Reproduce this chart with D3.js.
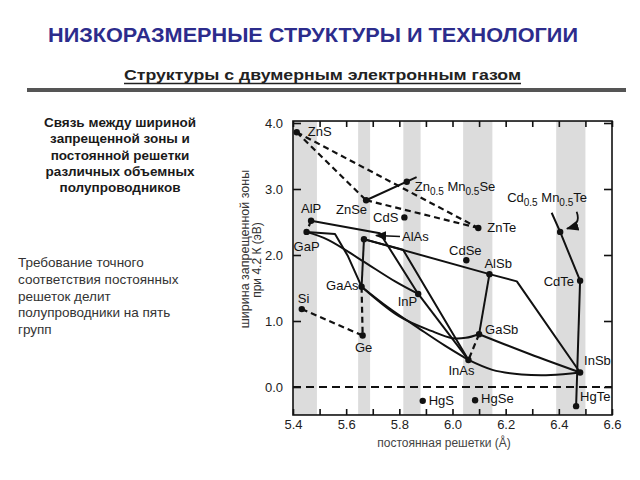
<!DOCTYPE html>
<html><head><meta charset="utf-8">
<script src="https://cdn.jsdelivr.net/npm/d3@7"></script>
<style>body{margin:0;background:#fff}svg{display:block;font-family:"Liberation Sans",Arial,Helvetica,sans-serif}</style>
</head><body><svg id="c" width="640" height="480"></svg>
<script>
// ---------- data ----------
const titleText = "НИЗКОРАЗМЕРНЫЕ СТРУКТУРЫ И ТЕХНОЛОГИИ";
const subtitleText = "Структуры с двумерным электронным газом";
const captionLines = ["Связь между шириной","запрещенной зоны и","постоянной решетки","различных объемных","полупроводников"];
const noteLines = ["Требование точного","соответствия постоянных","решеток делит","полупроводники на пять","групп"];
const yTitleLines = ["ширина запрещенной зоны","при 4.2 К (эВ)"];
const xTitle = "постоянная решетки (Å)";

const compounds   = ["ZnS","ZnSe","ZnTe","CdS","CdSe","CdTe","AlP","GaP","AlAs","GaAs","Ge","Si","InP","AlSb","GaSb","InAs","InSb","HgS","HgSe","HgTe","Zn0.5Mn0.5Se","Cd0.5Mn0.5Te"];
const latticeConst= [5.414,5.675,6.097,5.819,6.052,6.480,5.468,5.451,5.667,5.658,5.662,5.433,5.871,6.139,6.100,6.060,6.480,5.888,6.085,6.465,5.828,6.405];
const bandGap     = [3.86, 2.83, 2.41, 2.57, 1.92, 1.61, 2.52, 2.35, 2.24, 1.52, 0.78, 1.18, 1.41, 1.71, 0.80, 0.41, 0.22,-0.21,-0.20,-0.29, 3.11, 2.35];

const xTickValues = [5.4,5.5,5.6,5.7,5.8,5.9,6.0,6.1,6.2,6.3,6.4,6.5,6.6];
const xTickLabels = ["5.4","","5.6","","5.8","","6.0","","6.2","","6.4","","6.6"];
const yTickValues = [0,1,2,3,4];
const yTickLabels = ["0.0","1.0","2.0","3.0","4.0"];

// lattice-matching bands (lattice constant ranges)
const bandStart = [5.40,5.645,5.815,6.04,6.39];
const bandEnd   = [5.49,5.690,5.880,6.15,6.50];

// alloy lines: compound names or [a, Eg] points
const solidLines = [
  ["ZnSe",[5.865,3.18]],
  [[6.373,2.64],"Cd0.5Mn0.5Te","CdTe"],
  ["CdTe","HgTe"],
  ["AlP",[5.727,2.33],"InP"],
  ["GaP",[5.558,2.32],[5.607,1.98],"GaAs"],
  ["AlAs","GaAs"],
  ["AlAs","AlSb"],
  ["AlAs",[5.814,2.08],"InAs"],
  ["InP","InAs"],
  ["AlSb","GaSb"],
  ["AlSb",[6.242,1.60],"InSb"]
];
const curvedLines = [
  ["GaP",[5.532,2.23],[5.658,1.92],[5.784,1.60],"InP"],
  ["GaAs",[5.76,1.20],[5.88,0.87],[5.97,0.63],"InAs"],
  ["GaAs",[5.80,1.07],[5.92,0.85],[6.00,0.74],[6.05,0.745],"GaSb"],
  ["GaSb",[6.29,0.50],"InSb"],
  ["InAs",[6.15,0.26],[6.26,0.19],[6.37,0.18],"InSb"]
];
const dashedLines = [
  ["ZnS","ZnTe"],["ZnS","ZnSe"],["ZnSe","ZnTe"],["AlP","GaP"],["Si","Ge"],["GaAs","Ge"],["GaSb","InAs"]
];
// annotation arrows [tail, control, tip] in data coords
const arrowAlAs = [[5.8025,2.28],[5.76,2.29],[5.712,2.295]];
const arrowCdMnTe = [[6.467,2.656],[6.485,2.46],[6.431,2.40]];

// ---------- drawing ----------
const svg = d3.select("#c");
const x = d3.scaleLinear().domain([5.4,6.6]).range([293,612]);
const y = d3.scaleLinear().domain([0,4]).range([387,123]);
const yTop = 4.03, yBot = -0.424;
const X0 = x(5.4), X1 = x(6.6), Y0 = y(yTop), Y1 = y(yBot);

const defs = svg.append("defs");
defs.append("marker").attr("id","ah").attr("viewBox","0 0 10 10").attr("refX",9).attr("refY",5)
  .attr("markerWidth",7).attr("markerHeight",7).attr("orient","auto-start-reverse")
  .append("path").attr("d","M0,1 L10,5 L0,9 Z").attr("fill","#111");
defs.append("clipPath").attr("id","plotclip").append("rect")
  .attr("x",X0).attr("y",Y0).attr("width",X1-X0).attr("height",Y1-Y0);

// header
svg.append("text").attr("x",313).attr("y",42).attr("text-anchor","middle")
  .attr("font-size",20).attr("font-weight","bold").attr("fill","#2c2c8c")
  .attr("textLength",530).attr("lengthAdjust","spacingAndGlyphs").text(titleText);
svg.append("text").attr("x",322.5).attr("y",80).attr("text-anchor","middle")
  .attr("font-size",15.5).attr("font-weight","bold").attr("fill","#222")
  .attr("textLength",397).attr("lengthAdjust","spacingAndGlyphs").text(subtitleText);
svg.append("line").attr("x1",124).attr("x2",521).attr("y1",83.5).attr("y2",83.5)
  .attr("stroke","#222").attr("stroke-width",1.3);
svg.append("rect").attr("x",27).attr("y",88).attr("width",599).attr("height",4).attr("fill","#555");

// left texts
svg.append("g").selectAll("text").data(captionLines).join("text")
  .attr("x",120).attr("y",(d,i)=>127+i*16.3).attr("text-anchor","middle")
  .attr("font-size",13.5).attr("font-weight","bold").attr("fill","#1a1a1a").text(d=>d);
svg.append("g").selectAll("text").data(noteLines).join("text")
  .attr("x",18).attr("y",(d,i)=>267+i*16.8)
  .attr("font-size",13.5).attr("fill","#333").text(d=>d);

// plot bands
const plot = svg.append("g").attr("clip-path","url(#plotclip)");
plot.selectAll("rect.band").data(bandStart).join("rect").attr("class","band")
  .attr("x",(d)=>x(d)).attr("width",(d,i)=>x(bandEnd[i])-x(d))
  .attr("y",Y0).attr("height",Y1-Y0).attr("fill","#dcdcdc");

// zero line
plot.append("line").attr("x1",X0).attr("x2",X1).attr("y1",y(0)).attr("y2",y(0))
  .attr("stroke","#111").attr("stroke-width",2.2).attr("stroke-dasharray","8,5");

const idx = {}; compounds.forEach((c,i)=>idx[c]=i);
const P = p => typeof p === "string" ? [latticeConst[idx[p]], bandGap[idx[p]]] : p;
const lineLin = d3.line().x(d=>x(d[0])).y(d=>y(d[1]));
const lineCur = d3.line().x(d=>x(d[0])).y(d=>y(d[1])).curve(d3.curveCatmullRom.alpha(0.5));

plot.selectAll("path.solid").data(solidLines).join("path").attr("class","solid")
  .attr("d",d=>lineLin(d.map(P))).attr("fill","none").attr("stroke","#111")
  .attr("stroke-width",2).attr("stroke-linejoin","round");
plot.selectAll("path.curved").data(curvedLines).join("path").attr("class","curved")
  .attr("d",d=>lineCur(d.map(P))).attr("fill","none").attr("stroke","#111")
  .attr("stroke-width",2);
plot.selectAll("path.dashed").data(dashedLines).join("path").attr("class","dashed")
  .attr("d",d=>lineLin(d.map(P))).attr("fill","none").attr("stroke","#111")
  .attr("stroke-width",2.2).attr("stroke-dasharray","6,4");

// arrows
const q = pts => { const p = pts.map(d=>[x(d[0]),y(d[1])]); return `M${p[0]}Q${p[1]} ${p[2]}`; };
svg.append("path").attr("d",q(arrowAlAs)).attr("fill","none").attr("stroke","#111")
  .attr("stroke-width",1.6).attr("marker-end","url(#ah)");
svg.append("path").attr("d",q(arrowCdMnTe)).attr("fill","none").attr("stroke","#111")
  .attr("stroke-width",1.8).attr("marker-end","url(#ah)");

// dots
svg.append("g").selectAll("circle").data(compounds).join("circle")
  .attr("cx",d=>x(P(d)[0])).attr("cy",d=>y(P(d)[1])).attr("r",3.2).attr("fill","#111");

// labels: [dx, dy, anchor]
const labelPos = {
  "ZnS":[11,4,"start"],"ZnSe":[1,14,"end"],"ZnTe":[9,4,"start"],"CdS":[-6,5,"end"],
  "CdSe":[-1,-5,"middle"],"CdTe":[-6,5,"end"],"AlP":[-10,-8,"start"],"GaP":[-13,19,"start"],
  "AlAs":[38,2,"start"],"GaAs":[-3,3,"end"],"Ge":[1,16,"middle"],"Si":[-4,-6,"start"],
  "InP":[-1,12,"end"],"AlSb":[-5,-6,"start"],"GaSb":[6,0,"start"],"InAs":[-7,15,"middle"],
  "InSb":[4,-7,"start"],"HgS":[6,4,"start"],"HgSe":[6,3,"start"],"HgTe":[4,-5,"start"],
  "Zn0.5Mn0.5Se":[8,9,"start"],"Cd0.5Mn0.5Te":[-53,-30,"start"]
};
const lg = svg.append("g").attr("font-size",13).attr("fill","#111");
compounds.forEach(c=>{
  const [dx,dy,anc] = labelPos[c];
  const t = lg.append("text").attr("x",x(P(c)[0])+dx).attr("y",y(P(c)[1])+dy).attr("text-anchor",anc);
  const parts = c.split(/(\d\.\d)/);
  if (parts.length===1) { t.text(c); return; }
  parts.forEach((s,i)=>{
    if (i%2===1) t.append("tspan").attr("font-size",10).attr("dy",4).text(s);
    else if (i>0) t.append("tspan").attr("dy",-4).text((i===2?" ":"")+s);
    else t.append("tspan").text(s);
  });
});

// frame
svg.append("rect").attr("x",X0).attr("y",Y0).attr("width",X1-X0).attr("height",Y1-Y0)
  .attr("fill","none").attr("stroke","#111").attr("stroke-width",1.6);

// axes
const styleAxis = g => { g.select(".domain").remove();
  g.selectAll(".tick line").attr("stroke","#111").attr("stroke-width",1.6);
  g.selectAll(".tick text").attr("fill","#222").attr("font-size",13).attr("font-family","Liberation Sans, Arial, sans-serif"); };
svg.append("g").attr("transform",`translate(0,${Y1})`)
  .call(d3.axisBottom(x).tickValues(xTickValues).tickFormat((d,i)=>xTickLabels[i]).tickSizeInner(-6).tickSizeOuter(0).tickPadding(5))
  .call(styleAxis);
svg.append("g").attr("transform",`translate(0,${Y0})`)
  .call(d3.axisTop(x).tickValues(xTickValues).tickFormat("").tickSizeInner(-6).tickSizeOuter(0))
  .call(styleAxis);
svg.append("g").attr("transform",`translate(${X0},0)`)
  .call(d3.axisLeft(y).tickValues(yTickValues).tickFormat((d,i)=>yTickLabels[i]).tickSizeInner(-8).tickSizeOuter(0).tickPadding(10))
  .call(styleAxis);
svg.append("g").attr("transform",`translate(${X1},0)`)
  .call(d3.axisRight(y).tickValues(yTickValues).tickFormat("").tickSizeInner(-8).tickSizeOuter(0))
  .call(styleAxis);

// axis titles
svg.append("text").attr("transform","translate(249,249) rotate(-90)").attr("text-anchor","middle")
  .attr("font-size",12.5).attr("fill","#333").text(yTitleLines[0]);
svg.append("text").attr("transform","translate(261,260) rotate(-90)").attr("text-anchor","middle")
  .attr("font-size",12).attr("fill","#333").text(yTitleLines[1]);
svg.append("text").attr("x",444).attr("y",447).attr("text-anchor","middle")
  .attr("font-size",12).attr("fill","#444").text(xTitle);
</script></body></html>
